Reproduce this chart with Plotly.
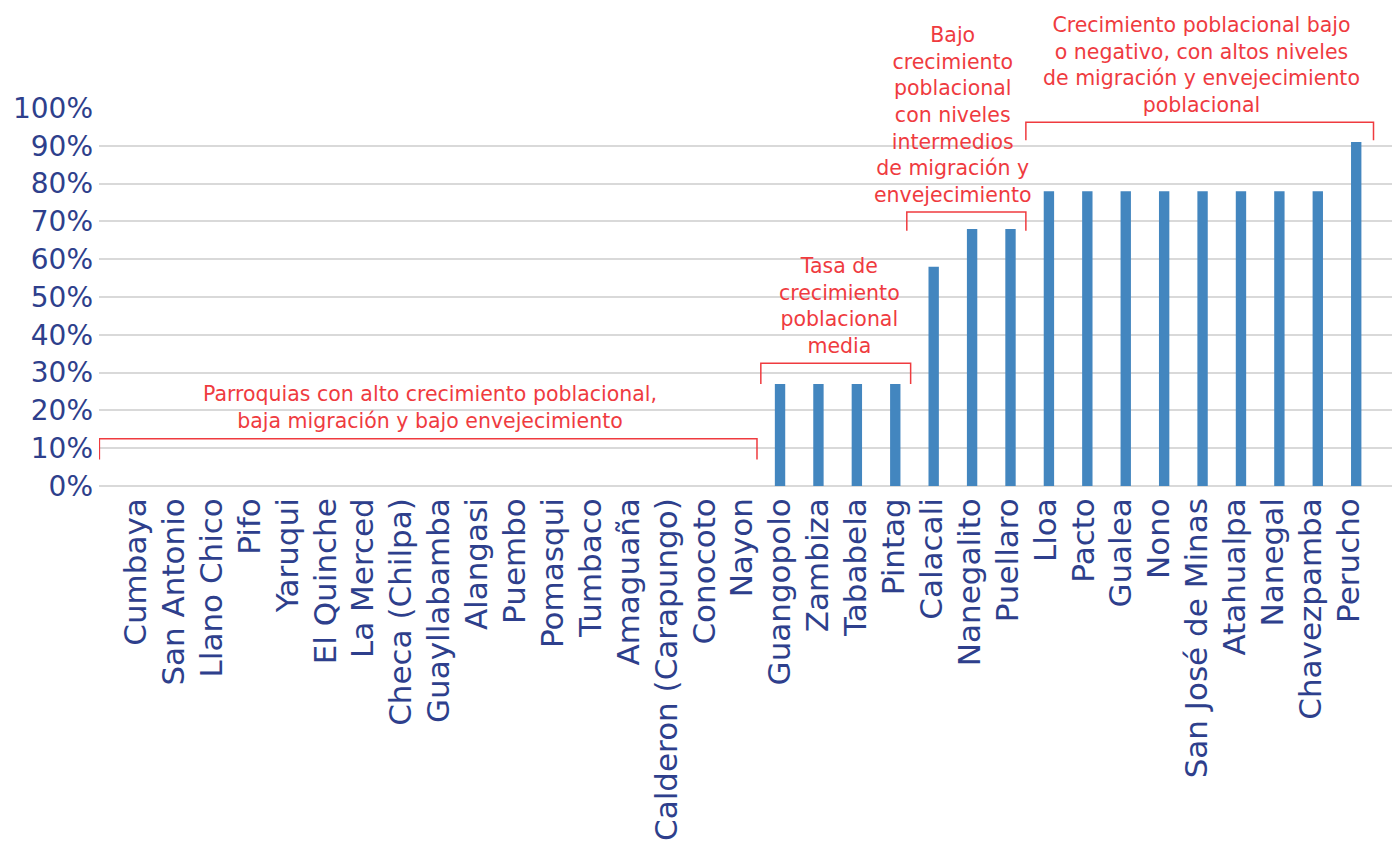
import plotly.graph_objects as go

parroquias = [
    "Cumbaya", "San Antonio", "Llano Chico", "Pifo", "Yaruqui", "El Quinche",
    "La Merced", "Checa (Chilpa)", "Guayllabamba", "Alangasi", "Puembo",
    "Pomasqui", "Tumbaco", "Amaguaña", "Calderon (Carapungo)", "Conocoto",
    "Nayon", "Guangopolo", "Zambiza", "Tababela", "Pintag", "Calacali",
    "Nanegalito", "Puellaro", "Lloa", "Pacto", "Gualea", "Nono",
    "San José de Minas", "Atahualpa", "Nanegal", "Chavezpamba", "Perucho",
]
valores = [
    0, 0, 0, 0, 0, 0, 0, 0, 0, 0, 0, 0, 0, 0, 0, 0, 0,
    27, 27, 27, 27, 58, 68, 68,
    78, 78, 78, 78, 78, 78, 78, 78, 91,
]
y_ticks = [0, 10, 20, 30, 40, 50, 60, 70, 80, 90, 100]
y_ticktext = [f"{v}%" for v in y_ticks]

BLUE_TXT = "#2E3F8C"
RED = "#EF3B3F"
FONT = "DejaVu Sans"

idx = list(range(len(parroquias)))

fig = go.Figure()
fig.add_trace(go.Bar(
    x=idx, y=valores, marker_color="#4386BF", width=0.27,
    marker_line_width=0, hoverinfo="skip",
))
# invisible carrier so the label axis is rendered
fig.add_trace(go.Scatter(
    x=idx, y=valores, xaxis="x2", mode="markers",
    marker=dict(opacity=0), hoverinfo="skip", showlegend=False,
))

# Group brackets (category-index coordinates) and labels
groups = [
    (-0.72, 16.4, 12.5, 7.0, 7.9, 13.4,
     "Parroquias con alto crecimiento poblacional,<br>baja migración y bajo envejecimiento"),
    (16.5, 20.4, 32.5, 27.0, 18.54, 33.4,
     "Tasa de<br>crecimiento<br>poblacional<br>media"),
    (20.3, 23.4, 72.5, 67.5, 21.48, 73.2,
     "Bajo<br>crecimiento<br>poblacional<br>con niveles<br>intermedios<br>de migración y<br>envejecimiento"),
    (23.4, 32.45, 96.2, 91.5, 27.96, 97.0,
     "Crecimiento poblacional bajo<br>o negativo, con altos niveles<br>de migración y envejecimiento<br>poblacional"),
]
for x0, x1, ytop, ybot, tx, ty, txt in groups:
    fig.add_shape(type="path",
                  path=f"M {x0} {ybot} L {x0} {ytop} L {x1} {ytop} L {x1} {ybot}",
                  xref="x", yref="y", line=dict(color=RED, width=1.5))
    fig.add_annotation(x=tx, y=ty, xref="x", yref="y", text=txt,
                       showarrow=False, yanchor="bottom", xanchor="center",
                       align="center", font=dict(family=FONT, size=20.5, color=RED))

fig.update_layout(
    width=1400, height=850,
    margin=dict(l=91, r=8, t=100, b=372),
    plot_bgcolor="white", paper_bgcolor="white",
    showlegend=False,
    font=dict(family=FONT, color=BLUE_TXT),
    xaxis=dict(
        range=[-0.73, 33.14], showgrid=False, zeroline=False, showline=False,
        showticklabels=False, ticks="",
    ),
    xaxis2=dict(
        overlaying="x", side="bottom", anchor="y",
        tickmode="array", tickvals=idx, ticktext=parroquias, tickangle=-90,
        range=[-0.976, 33.35], showgrid=False, zeroline=False, showline=False,
        ticks="", automargin=False, ticklabelstandoff=5,
        tickfont=dict(family=FONT, size=31, color=BLUE_TXT),
    ),
)
fig.update_yaxes(
    range=[0, 100], tickmode="array", tickvals=y_ticks, ticktext=y_ticktext,
    showgrid=True, gridcolor="#D9D9D9", gridwidth=1.5,
    zeroline=True, zerolinecolor="#D9D9D9", zerolinewidth=1.5,
    showline=False, ticks="", automargin=False, ticklabelstandoff=5,
    tickfont=dict(family=FONT, size=28, color=BLUE_TXT),
)

fig.write_html("out.html")
